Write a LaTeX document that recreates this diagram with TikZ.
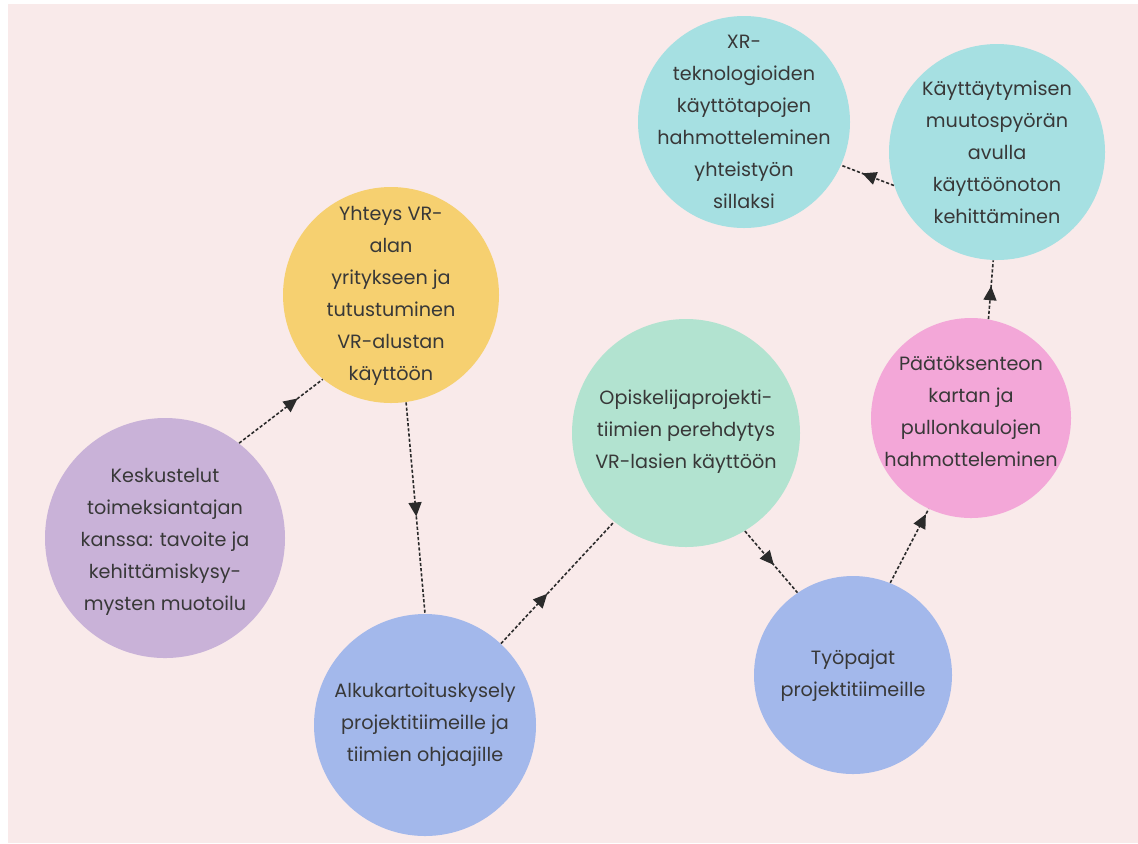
\documentclass[tikz,border=0pt]{standalone}
\usepackage{fontspec}
\setmainfont{Poppins}
\usepackage{tikz}
\usetikzlibrary{arrows.meta,decorations.markings}

\definecolor{bgpink}{HTML}{F9EAEA}
\definecolor{lilac}{HTML}{C9B2D8}
\definecolor{sun}{HTML}{F6D070}
\definecolor{sky}{HTML}{A3B8EB}
\definecolor{mint}{HTML}{B2E3D0}
\definecolor{rose}{HTML}{F3A7D8}
\definecolor{aqua}{HTML}{A6E0E2}
\definecolor{ink}{HTML}{383838}
\definecolor{wire}{HTML}{2B2B2B}

\tikzset{
  stage/.style={circle,inner sep=0pt,minimum size=#1},
  txt/.style={align=center,text=ink,font=\fontsize{9.6}{16}\selectfont},
  flow/.style={wire,line width=0.8pt,dash pattern=on 1.6pt off 1pt,
    postaction={decorate},
    decoration={markings,mark=at position #1 with {\arrow{Triangle[length=7pt,width=6.5pt]}}}}
}

\begin{document}
\begin{tikzpicture}[x=0.5pt,y=-0.5pt]
  \useasboundingbox (0,0) rectangle (1138,843);
  \fill[bgpink] (8,4) rectangle (1138,843);
  \node[stage=120pt,fill=lilac] (keskustelut) at (165,538) {};
  \node[stage=108pt,fill=sun] (yhteys) at (391,295) {};
  \node[stage=111pt,fill=sky] (alku) at (425,725) {};
  \node[stage=114pt,fill=mint] (opiskelija) at (686,433) {};
  \node[stage=99pt,fill=sky] (tyopajat) at (853,675) {};
  \node[stage=100pt,fill=rose] (paatos) at (971,418) {};
  \node[stage=106pt,fill=aqua] (xr) at (744,122) {};
  \node[stage=108pt,fill=aqua] (kayttaytyminen) at (997,152) {};
  \node[txt] (keskustelut-t) at (165,542) {Keskustelut\\toimeksiantajan\\kanssa: tavoite ja\\kehittämiskysy-\\mysten muotoilu};
  \node[txt] (yhteys-t) at (391,296) {Yhteys VR-\\alan\\yritykseen ja\\tutustuminen\\VR-alustan\\käyttöön};
  \node[txt] (alku-t) at (425,725) {Alkukartoituskysely\\projektitiimeille ja\\tiimien ohjaajille};
  \node[txt] (opiskelija-t) at (686,432) {Opiskelijaprojekti-\\tiimien perehdytys\\VR-lasien käyttöön};
  \node[txt] (tyopajat-t) at (853,676) {Työpajat\\projektitiimeille};
  \node[txt] (paatos-t) at (971,411) {Päätöksenteon\\kartan ja\\pullonkaulojen\\hahmotteleminen};
  \node[txt] (xr-t) at (744,122) {XR-\\teknologioiden\\käyttötapojen\\hahmotteleminen\\yhteistyön\\sillaksi};
  \node[txt] (kayttaytyminen-t) at (997,152) {Käyttäytymisen\\muutospyörän\\avulla\\käyttöönoton\\kehittäminen};
  \draw[flow=0.7] (keskustelut.52) -- (yhteys.231);
  \draw[flow=0.54] (yhteys.278) -- (alku.90);
  \draw[flow=0.41] (alku.47) -- (opiskelija.231);
  \draw[flow=0.55] (opiskelija.301) -- (tyopajat.124);
  \draw[flow=0.93] (tyopajat.68) -- (paatos.245);
  \draw[flow=0.56] (paatos.80) -- (kayttaytyminen.268);
  \draw[flow=0.6] (kayttaytyminen.198) -- (xr.336);
\end{tikzpicture}
\end{document}
